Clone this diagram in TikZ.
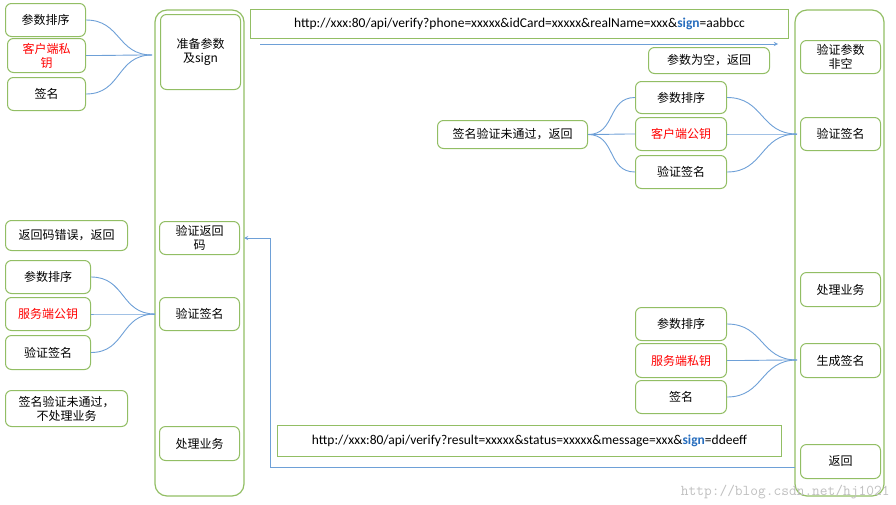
\documentclass[tikz,border=0pt]{standalone}
\usepackage{fontspec}
\setmainfont{Carlito}
\newfontfamily\cjk{Noto Sans CJK SC}
\definecolor{boxgreen}{RGB}{146,190,100}
\definecolor{linkblue}{RGB}{110,160,215}
\definecolor{signblue}{RGB}{40,110,190}
\tikzset{
  stepbox/.style={draw=boxgreen, line width=1pt, rounded corners=6pt, fill=white,
    font=\cjk\fontsize{12}{14}\selectfont, align=center, inner sep=0pt},
  urlbox/.style={draw=boxgreen, line width=1pt, fill=white, inner sep=0pt,
    font=\fontsize{13.5}{15}\selectfont},
  lane/.style={draw=boxgreen, line width=1.2pt, rounded corners=12pt},
  brace/.style={draw=linkblue, line width=0.9pt, out=0, in=180, looseness=1.2},
  flow/.style={draw=linkblue, line width=0.9pt, ->, >=stealth},
}
\newcommand{\bx}[4]{\node[stepbox, minimum width=#3pt, minimum height=#4pt, anchor=north west] (#1) at #2}
\begin{document}
\begin{tikzpicture}[x=1pt,y=-1pt]
  \useasboundingbox (0,0) rectangle (896,504);
  % Lanes
  \draw[lane] (155,10) rectangle (244,496);
  \draw[lane] (795,10) rectangle (884,496);

  % Client side
  \bx{lsort}{(5,3)}{80}{33}{参数排序};
  \bx{lkey}{(7,38)}{78}{34}{\textcolor{red}{客户端私}\\\textcolor{red}{钥}};
  \bx{lsign}{(7,77)}{78}{33}{签名};
  \bx{prep}{(160,14)}{80}{75}{准备参数\\及sign};
  \coordinate (m1) at (152,55);
  \foreach \n in {lsort,lkey,lsign} \draw[brace] (\n.east) to (m1);

  \bx{rcerr}{(5,220)}{122}{30}{返回码错误，返回};
  \bx{chkrc}{(159,221)}{80}{33}{验证返回\\码};
  \bx{csort}{(5,260)}{85}{33}{参数排序};
  \bx{cpub}{(5,297)}{85}{33}{\textcolor{red}{服务端公钥}};
  \bx{cver}{(5,335)}{85}{34}{验证签名};
  \bx{cchk}{(159,297)}{80}{33}{验证签名};
  \coordinate (m2) at (155,314);
  \foreach \n in {csort,cpub,cver} \draw[brace] (\n.east) to (m2);
  \bx{cfail}{(5,390)}{122}{36}{签名验证未通过，\\不处理业务};
  \bx{cdo}{(159,426)}{80}{34}{处理业务};

  % Requests
  \node[urlbox, minimum width=538pt, minimum height=29pt, anchor=north west] (req) at (250,9)
    {http://xxx:80/api/verify?phone=xxxxx\&idCard=xxxxx\&realName=xxx\&\textcolor{signblue}{\textbf{sign}}=aabbcc};
  \coordinate (reqa) at (260,44);
  \coordinate (reqb) at (778,44);
  \draw[flow] (reqa) -- (reqb);

  % Server side
  \bx{snull}{(800,40)}{80}{33}{验证参数\\非空};
  \bx{sempty}{(648,47)}{121}{26}{参数为空，返回};
  \bx{ssort}{(635,81)}{91}{32}{参数排序};
  \bx{spub}{(635,117)}{91}{33}{\textcolor{red}{客户端公钥}};
  \bx{sver}{(635,155)}{91}{33}{验证签名};
  \bx{schk}{(800,117)}{80}{33}{验证签名};
  \bx{sfail}{(437,120)}{150}{28}{签名验证未通过，返回};
  \coordinate (m3) at (797,134);
  \foreach \n in {ssort,spub,sver} \draw[brace] (\n.east) to (m3);
  \foreach \n in {ssort,spub,sver} \draw[brace] (sfail.east) to (\n.west);

  \bx{sdo}{(800,272)}{80}{34}{处理业务};
  \bx{gsort}{(635,307)}{91}{33}{参数排序};
  \bx{gkey}{(635,343)}{91}{34}{\textcolor{red}{服务端私钥}};
  \bx{gsign}{(635,380)}{91}{33}{签名};
  \bx{gen}{(800,343)}{80}{34}{生成签名};
  \coordinate (m4) at (797,360);
  \foreach \n in {gsort,gkey,gsign} \draw[brace] (\n.east) to (m4);
  \bx{sret}{(800,444)}{80}{34}{返回};

  % Response
  \node[urlbox, minimum width=504pt, minimum height=31pt, anchor=north west] (resp) at (277,425)
    {http://xxx:80/api/verify?result=xxxxx\&status=xxxxx\&message=xxx\&\textcolor{signblue}{\textbf{sign}}=ddeeff};
  \coordinate (resa) at (795,467);
  \draw[flow] (resa) -- (270,467) |- (chkrc.east -| 244,0);

  \node[text=black!25, font=\ttfamily\fontsize{15}{17}\selectfont, anchor=south east] (mark) at (893,502) {http://blog.csdn.net/hj1021};
\end{tikzpicture}
\end{document}
